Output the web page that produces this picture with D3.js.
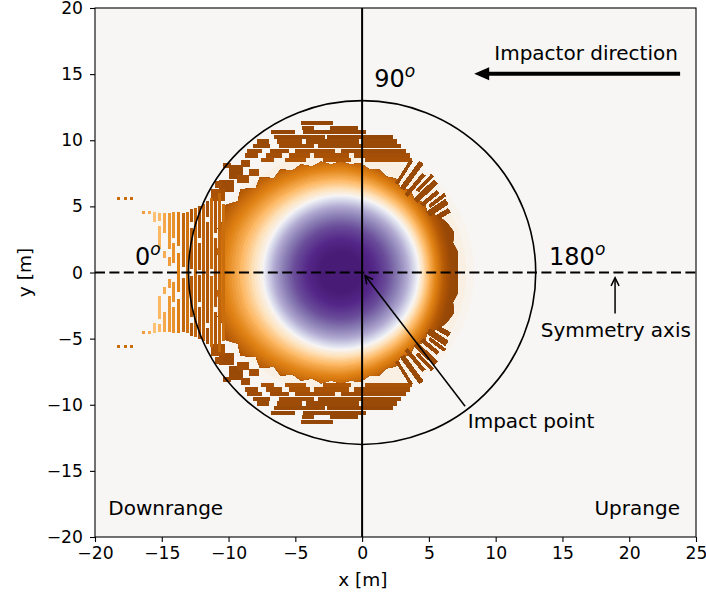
<!DOCTYPE html>
<html><head><meta charset="utf-8">
<script src="https://cdn.jsdelivr.net/npm/d3@7"></script>
<style>
body{margin:0;background:#fff;}
text{font-family:"DejaVu Sans",sans-serif;fill:#000;}
</style></head><body>
<svg id="chart" width="706" height="601"></svg>
<script>
// ---------- data ----------
const xDomain = [-20, 25];
const yDomain = [-20, 20];
const xTicks = [-20, -15, -10, -5, 0, 5, 10, 15, 20, 25];
const yTicks = [-20, -15, -10, -5, 0, 5, 10, 15, 20];

// PuOr diverging palette: tone 0 = dark brown, 0.5 = neutral, 1 = dark purple
const puorStops = ["#7f3b08","#b35806","#e08214","#fdb863","#fee0b6","#f7f7f7","#d8daeb","#b2abd2","#8073ac","#542788","#2d004b"];

const craterCentre = [-1.6, 0];
const referenceRadius = 13;

// crater floor: distance from centre (m) and tone
const craterRadius = [0, 1.5, 2.5, 3.5, 4.3, 5.0, 5.5, 5.85];
const craterTone   = [0.93, 0.93, 0.9, 0.85, 0.78, 0.7, 0.6, 0.5];

// faint halo outside the blanket
const haloRadius = [10.8, 10.0, 9.4];
const haloTone   = [0.495, 0.485, 0.47];

// continuous ejecta blanket, upper half (mirrored about the symmetry axis)
// ragged outer edge, every 5 degrees (0 = uprange, 180 = downrange)
const edgeAngle = [0, 5, 10, 15, 20, 25, 30, 35, 40, 45, 50, 55, 60, 65, 70, 75, 80, 85, 90,
                   95, 100, 105, 110, 115, 120, 125, 130, 135, 140, 145, 150, 155, 160, 165, 170, 175, 180];
const blanketEdge = [8.75, 8.8, 8.9, 8.7, 9.0, 8.8, 8.5, 7.9, 8.2, 7.8, 8.1, 7.8, 8.2, 8.0, 8.3, 8.1, 8.4, 8.2, 8.4,
                     8.2, 8.5, 8.3, 8.7, 8.5, 9.0, 8.7, 9.4, 9.0, 9.8, 9.4, 10.1, 9.6, 9.8, 9.3, 9.4, 9.1, 9.2];
// radius at which the blanket tone reaches dark brown, every 10 degrees
const spanAngle = [0, 10, 20, 30, 40, 50, 60, 70, 80, 90, 100, 110, 120, 130, 140, 150, 160, 170, 180];
const blanketSpan = [8.3, 8.35, 8.45, 8.6, 8.75, 8.9, 9.0, 9.2, 9.4, 9.6, 9.7, 9.9, 10.1, 10.4, 10.7, 11.0, 11.2, 11.2, 11.2];
const blanketInner = 5.85;
const blanketFrac = [0, 0.1, 0.22, 0.36, 0.5, 0.65, 0.8, 1.0, 1.6];
const blanketTone = [0.5, 0.44, 0.36, 0.28, 0.22, 0.16, 0.1, 0.05, 0.03];

// fragmented fringe, upper half: horizontal streaks [x0, x1, y, tone]
const fringeRows = [
  [-4.6, -2.2, 11.3, 0.04],
  [-2.4, -0.3, 10.95, 0.04], [-4.5, -3.6, 10.95, 0.05],
  [-6.8, -5.0, 10.6, 0.04], [-4.4, 0.3, 10.6, 0.04],
  [-6.6, -2.8, 10.25, 0.05], [-2.6, 2.3, 10.25, 0.04],
  [-7.9, -7.0, 9.9, 0.05], [-6.4, -4.5, 9.9, 0.06], [-4.2, -0.2, 9.9, 0.05], [0.1, 2.6, 9.9, 0.05],
  [-8.2, -6.9, 9.55, 0.05], [-6.2, -3.6, 9.55, 0.06], [-3.3, 2.9, 9.55, 0.05],
  [-8.6, -7.5, 9.2, 0.06], [-6.9, -5.5, 9.2, 0.06], [-5.0, -2.0, 9.2, 0.07], [-1.6, 3.3, 9.2, 0.06],
  [-8.8, -7.8, 8.85, 0.06], [-7.2, -6.0, 8.85, 0.07], [-5.5, -3.9, 8.85, 0.08], [-3.6, -1.0, 8.85, 0.08], [-0.6, 3.6, 8.85, 0.07],
  [-7.6, -6.6, 8.5, 0.08], [-5.8, -4.2, 8.5, 0.09], [-2.9, -0.8, 8.5, 0.09], [0.2, 3.7, 8.5, 0.08]
];
// blocky fragments [x0, x1, y0, y1, tone]
const fringeBlocks = [
  [-10.0, -8.9, 7.1, 8.1, 0.05], [-9.4, -8.5, 6.8, 7.4, 0.07], [-10.7, -9.6, 6.1, 7.0, 0.06],
  [-11.3, -10.3, 5.4, 6.3, 0.08], [-9.1, -8.4, 8.0, 8.5, 0.06], [-10.4, -9.8, 7.9, 8.3, 0.05],
  [-8.5, -7.7, 7.3, 7.8, 0.07], [-11.0, -10.5, 6.4, 6.9, 0.07]
];
// vertical stripes downrange [x, y0, y1, tone]
const fringeColumns = [
  [-10.4, 0.0, 5.2, 0.15], [-10.7, 0.0, 6.0, 0.13], [-11.0, 0.0, 2.6, 0.1], [-11.0, 3.0, 5.8, 0.09],
  [-11.3, 0.3, 5.6, 0.14], [-11.6, 0.0, 3.8, 0.09], [-11.6, 4.2, 5.4, 0.07],
  [-11.9, 0.0, 5.2, 0.12], [-12.2, 0.2, 2.2, 0.09], [-12.2, 2.6, 5.0, 0.08],
  [-12.5, 0.0, 4.9, 0.13], [-12.8, 0.3, 3.4, 0.1], [-12.8, 3.8, 4.8, 0.09],
  [-13.1, 0.0, 4.6, 0.16], [-13.4, 0.4, 4.5, 0.13],
  [-13.75, 0.0, 1.5, 0.2], [-13.75, 2.0, 4.6, 0.19],
  [-14.1, 0.7, 2.2, 0.23], [-14.1, 2.6, 4.6, 0.23],
  [-14.45, 0.5, 1.2, 0.25], [-14.45, 1.8, 4.5, 0.24], [-14.8, 1.1, 1.6, 0.28],
  [-14.8, 3.0, 4.5, 0.27], [-15.15, 1.8, 3.5, 0.3], [-15.15, 3.9, 4.5, 0.3],
  [-15.55, 3.8, 4.6, 0.32], [-15.95, 4.45, 4.65, 0.28], [-16.35, 4.45, 4.65, 0.25],
  [-17.25, 5.5, 5.7, 0.15], [-17.75, 5.5, 5.7, 0.15], [-18.25, 5.5, 5.7, 0.15]
];
// radial spikes uprange [angle deg, r0, r1, half width, tone]
const fringeRays = [
  [58, 7.9, 10.0, 0.13, 0.05], [54, 7.8, 10.3, 0.2, 0.05], [50, 7.6, 9.7, 0.16, 0.05],
  [47, 8.4, 10.1, 0.14, 0.05], [44, 7.8, 9.9, 0.22, 0.05], [40, 7.9, 9.5, 0.16, 0.05],
  [37, 8.3, 9.8, 0.14, 0.05], [34, 7.9, 9.6, 0.24, 0.05], [30, 8.4, 9.4, 0.2, 0.04]
];

// ---------- layout ----------
const svg = d3.select("#chart");
const M = {left: 95, right: 696, top: 8, bottom: 537};
const x = d3.scaleLinear().domain(xDomain).range([M.left, M.right]);
const y = d3.scaleLinear().domain(yDomain).range([M.bottom, M.top]);

const toneColor = d3.scaleLinear()
  .domain(puorStops.map((_, i) => i / 10))
  .range(puorStops)
  .interpolate(d3.interpolateRgb)
  .clamp(true);

const defs = svg.append("defs");
defs.append("clipPath").attr("id", "plotClip")
  .append("rect").attr("x", M.left).attr("y", M.top)
  .attr("width", M.right - M.left).attr("height", M.bottom - M.top);

const plot = svg.append("g").attr("clip-path", "url(#plotClip)");
plot.append("rect").attr("x", M.left).attr("y", M.top)
  .attr("width", M.right - M.left).attr("height", M.bottom - M.top)
  .attr("fill", "#f7f6f4");

const [cx, cy] = craterCentre;

// full-circle lists: upper half then mirrored lower half
const fullOf = ang => ang.concat(ang.slice(1, -1).reverse().map(a => 360 - a));
const mirrorVals = arr => arr.concat(arr.slice(1, -1).reverse());

const smoothLine = d3.line().x(d => x(d[0])).y(d => y(d[1])).curve(d3.curveCatmullRomClosed.alpha(0.5));
const sharpLine = d3.line().x(d => x(d[0])).y(d => y(d[1])).curve(d3.curveLinearClosed);
const polar = (a, r) => [cx + r * Math.cos(a * Math.PI / 180), cy + r * Math.sin(a * Math.PI / 180)];

// halo
plot.selectAll("ellipse.halo").data(haloRadius.map((r, i) => [r, haloTone[i]]))
  .join("ellipse").attr("class", "halo")
  .attr("cx", x(cx)).attr("cy", y(cy))
  .attr("rx", d => x(d[0]) - x(0)).attr("ry", d => y(0) - y(d[0]))
  .attr("fill", d => toneColor(d[1]));

// blanket clip (ragged continuous edge)
const edgeAngFull = fullOf(edgeAngle), edgeFull = mirrorVals(blanketEdge);
defs.append("clipPath").attr("id", "blanketClip")
  .append("path").attr("d", sharpLine(edgeAngFull.map((a, i) => polar(a, edgeFull[i]))));

const spanAngFull = fullOf(spanAngle), spanFull = mirrorVals(blanketSpan);
const fracTone = d3.scaleLinear().domain(blanketFrac).range(blanketTone).clamp(true);
const levels = d3.range(1.6, -0.001, -0.04);
const blanket = plot.append("g").attr("clip-path", "url(#blanketClip)");
blanket.selectAll("path").data(levels).join("path")
  .attr("d", f => smoothLine(spanAngFull.map((a, i) => polar(a, blanketInner + f * (spanFull[i] - blanketInner)))))
  .attr("fill", f => toneColor(fracTone(f)));

// crater floor as a radial gradient
const grad = defs.append("radialGradient").attr("id", "craterGrad");
grad.selectAll("stop").data(craterRadius).join("stop")
  .attr("offset", r => r / craterRadius[craterRadius.length - 1])
  .attr("stop-color", (r, i) => toneColor(craterTone[i]));
plot.append("ellipse")
  .attr("cx", x(cx)).attr("cy", y(cy))
  .attr("rx", x(blanketInner) - x(0)).attr("ry", y(0) - y(blanketInner))
  .attr("fill", "url(#craterGrad)");

// fringe fragments, drawn for both halves
const frag = plot.append("g").attr("shape-rendering", "crispEdges");
const both = (y0, y1) => [[y0, y1], [-y1, -y0]];
const addRect = (x0, x1, y0, y1, t) => frag.append("rect")
  .attr("x", x(x0)).attr("y", y(y1))
  .attr("width", x(x1) - x(x0)).attr("height", y(y0) - y(y1)).attr("fill", toneColor(t));
const rowH = 0.16;
fringeRows.forEach(([x0, x1, yc, t]) => both(yc - rowH, yc + rowH).forEach(([a, b]) => addRect(x0, x1, a, b, t)));
fringeBlocks.forEach(([x0, x1, y0, y1, t]) => both(y0, y1).forEach(([a, b]) => addRect(x0, x1, a, b, t)));
const colW = 0.11;
fringeColumns.forEach(([xc, y0, y1, t]) => both(y0, y1).forEach(([a, b]) => addRect(xc - colW, xc + colW, a, b, t)));
const openLine = d3.line().x(d => x(d[0])).y(d => y(d[1]));
fringeRays.forEach(([ang, r0, r1, w, t]) => [ang, -ang].forEach(a => {
  const rad = a * Math.PI / 180, ux = Math.cos(rad), uy = Math.sin(rad), px = -uy * w, py = ux * w;
  const pts = [[cx + ux * r0 + px, cy + uy * r0 + py], [cx + ux * r1 + px, cy + uy * r1 + py],
               [cx + ux * r1 - px, cy + uy * r1 - py], [cx + ux * r0 - px, cy + uy * r0 - py]];
  frag.append("path").attr("d", openLine(pts) + "Z").attr("fill", toneColor(t));
}));

// reference circle and guide lines
plot.append("ellipse").attr("cx", x(0)).attr("cy", y(0))
  .attr("rx", x(referenceRadius) - x(0)).attr("ry", y(0) - y(referenceRadius))
  .attr("fill", "none").attr("stroke", "#000").attr("stroke-width", 1.6);
plot.append("line").attr("x1", x(0)).attr("x2", x(0)).attr("y1", y(20)).attr("y2", y(-20))
  .attr("stroke", "#000").attr("stroke-width", 2);
plot.append("line").attr("x1", x(-20)).attr("x2", x(25)).attr("y1", y(0)).attr("y2", y(0))
  .attr("stroke", "#000").attr("stroke-width", 2).attr("stroke-dasharray", "10,4.4");

// axes
const xAxis = svg.append("g").attr("transform", `translate(0,${M.bottom})`)
  .call(d3.axisBottom(x).tickValues(xTicks).tickSize(5).tickPadding(5));
const yAxis = svg.append("g").attr("transform", `translate(${M.left},0)`)
  .call(d3.axisLeft(y).tickValues(yTicks).tickSize(5).tickPadding(7));
[xAxis, yAxis].forEach(g => {
  g.select(".domain").remove();
  g.selectAll("line").attr("stroke", "#000").attr("stroke-width", 1.1);
  g.selectAll("text").attr("font-size", 17.2).attr("font-family", "DejaVu Sans").attr("fill", "#000");
});
svg.append("rect").attr("x", M.left).attr("y", M.top)
  .attr("width", M.right - M.left).attr("height", M.bottom - M.top)
  .attr("fill", "none").attr("stroke", "#000").attr("stroke-width", 1.1);

svg.append("text").attr("x", x(0.05)).attr("y", 586).attr("text-anchor", "middle")
  .attr("font-size", 18.5).text("x [m]");
svg.append("text").attr("transform", `translate(31,${y(0)}) rotate(-90)`).attr("text-anchor", "middle")
  .attr("font-size", 18.5).text("y [m]");

// annotations
const ann = svg.append("g");
function degLabel(xv, yv, label) {
  const t = ann.append("text").attr("x", x(xv)).attr("y", y(yv)).attr("font-size", 24);
  t.append("tspan").text(label);
  t.append("tspan").attr("dy", -10).attr("font-size", 17).attr("font-style", "italic").text("o");
}
degLabel(0.9, 14.05, "90");
degLabel(14.0, 0.55, "180");
degLabel(-17.0, 0.55, "0");

ann.append("text").attr("x", x(16.77)).attr("y", y(16.1)).attr("text-anchor", "middle")
  .attr("font-size", 20).text("Impactor direction");
ann.append("text").attr("x", x(19.0)).attr("y", y(-4.9)).attr("text-anchor", "middle")
  .attr("font-size", 20).text("Symmetry axis");
ann.append("text").attr("x", x(12.65)).attr("y", y(-11.77)).attr("text-anchor", "middle")
  .attr("font-size", 20).text("Impact point");
ann.append("text").attr("x", x(-19.0)).attr("y", y(-18.35))
  .attr("font-size", 20).text("Downrange");
ann.append("text").attr("x", x(23.8)).attr("y", y(-18.35)).attr("text-anchor", "end")
  .attr("font-size", 20).text("Uprange");

defs.append("marker").attr("id", "openHead").attr("viewBox", "-10 -6 12 12")
  .attr("refX", 0).attr("refY", 0).attr("markerWidth", 12).attr("markerHeight", 12)
  .attr("markerUnits", "userSpaceOnUse").attr("orient", "auto")
  .append("path").attr("d", "M-8,-4L0,0L-8,4").attr("fill", "none").attr("stroke", "#000").attr("stroke-width", 1.5);

ann.append("line").attr("x1", x(7.71)).attr("y1", y(-10.11)).attr("x2", x(0.22)).attr("y2", y(-0.23))
  .attr("stroke", "#000").attr("stroke-width", 1.5).attr("marker-end", "url(#openHead)");
ann.append("line").attr("x1", x(18.94)).attr("y1", y(-3.1)).attr("x2", x(18.94)).attr("y2", y(-0.4))
  .attr("stroke", "#000").attr("stroke-width", 1.5).attr("marker-end", "url(#openHead)");

// impactor direction: thick arrow with filled head
const tipX = x(8.39), tailX = x(23.81), ay = y(15.02);
ann.append("line").attr("x1", tailX).attr("y1", ay).attr("x2", tipX + 12).attr("y2", ay)
  .attr("stroke", "#000").attr("stroke-width", 4);
ann.append("path").attr("d", `M${tipX},${ay}L${tipX + 15},${ay - 6.5}L${tipX + 15},${ay + 6.5}Z`).attr("fill", "#000");
</script></body></html>
